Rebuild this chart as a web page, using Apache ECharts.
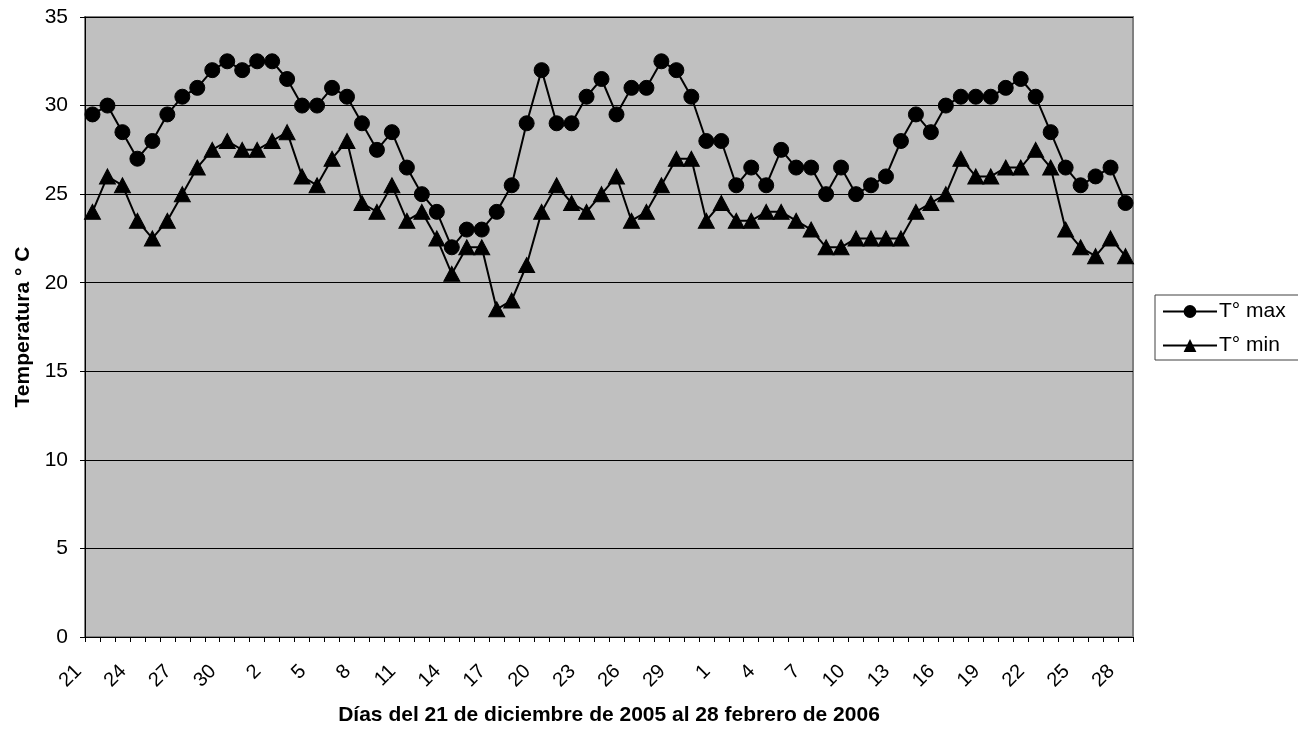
<!DOCTYPE html>
<html>
<head>
<meta charset="utf-8">
<script src="https://cdn.jsdelivr.net/npm/echarts@6/dist/echarts.min.js"></script>
<style>
  html, body { margin: 0; padding: 0; background: #fff; }
  #chart { width: 1298px; height: 731px; }
</style>
</head>
<body>
<div id="chart"></div>
<script>
// Day of month for each observation: 21 Dec 2005 .. 28 Feb 2006
const days = [
  '21','22','23','24','25','26','27','28','29','30','31',
  '1','2','3','4','5','6','7','8','9','10','11','12','13','14','15','16','17','18','19','20','21','22','23','24','25','26','27','28','29','30','31',
  '1','2','3','4','5','6','7','8','9','10','11','12','13','14','15','16','17','18','19','20','21','22','23','24','25','26','27','28'
];

// Daily maximum temperature (°C)
const tMax = [
  29.5, 30, 28.5, 27, 28, 29.5, 30.5, 31, 32, 32.5, 32,
  32.5, 32.5, 31.5, 30, 30, 31, 30.5, 29, 27.5, 28.5, 26.5, 25, 24, 22, 23, 23, 24, 25.5, 29, 32,
  29, 29, 30.5, 31.5, 29.5, 31, 31, 32.5, 32, 30.5, 28,
  28, 25.5, 26.5, 25.5, 27.5, 26.5, 26.5, 25, 26.5, 25, 25.5, 26, 28, 29.5, 28.5, 30,
  30.5, 30.5, 30.5, 31, 31.5, 30.5, 28.5, 26.5, 25.5, 26, 26.5, 24.5
];

// Daily minimum temperature (°C)
const tMin = [
  24, 26, 25.5, 23.5, 22.5, 23.5, 25, 26.5, 27.5, 28, 27.5,
  27.5, 28, 28.5, 26, 25.5, 27, 28, 24.5, 24, 25.5, 23.5, 24, 22.5, 20.5, 22, 22, 18.5, 19, 21, 24,
  25.5, 24.5, 24, 25, 26, 23.5, 24, 25.5, 27, 27, 23.5,
  24.5, 23.5, 23.5, 24, 24, 23.5, 23, 22, 22, 22.5, 22.5, 22.5, 22.5, 24, 24.5, 25,
  27, 26, 26, 26.5, 26.5, 27.5, 26.5, 23, 22, 21.5, 22.5, 21.5
];

const FONT = '"Liberation Sans", Arial, sans-serif';

const chart = echarts.init(document.getElementById('chart'), null, { renderer: 'canvas' });

chart.setOption({
  animation: false,
  backgroundColor: '#ffffff',
  textStyle: { fontFamily: FONT, color: '#000' },
  grid: {
    left: 85, right: 165, top: 17, bottom: 93,
    show: true,
    backgroundColor: '#c0c0c0',
    borderColor: '#808080',
    borderWidth: 2
  },
  legend: {
    orient: 'vertical',
    left: 1155,
    top: 295,
    padding: [6, 30, 4, 7],
    itemGap: 13,
    itemWidth: 54,
    itemHeight: 16,
    borderColor: '#404040',
    borderWidth: 1,
    backgroundColor: '#fff',
    textStyle: { fontFamily: FONT, fontSize: 21, color: '#000', padding: [0, 0, 0, -3] },
    data: ['T° max', 'T° min']
  },
  xAxis: {
    type: 'category',
    data: days,
    boundaryGap: true,
    name: 'Días del 21 de diciembre de 2005 al 28 febrero de 2006',
    nameLocation: 'middle',
    nameGap: 68,
    nameTextStyle: { fontFamily: FONT, fontSize: 21, fontWeight: 'bold', color: '#000' },
    axisLine: { show: true, lineStyle: { color: '#000', width: 1 } },
    axisTick: { show: true, interval: 0, length: 5, lineStyle: { color: '#000' } },
    axisLabel: {
      interval: 2,
      rotate: 45,
      margin: 17,
      padding: [0, 20, 0, 0],
      fontFamily: FONT,
      fontSize: 20,
      color: '#000'
    },
    splitLine: { show: false }
  },
  yAxis: {
    type: 'value',
    min: 0,
    max: 35,
    interval: 5,
    name: 'Temperatura ° C',
    nameLocation: 'middle',
    nameGap: 51,
    nameTextStyle: { fontFamily: FONT, fontSize: 21, fontWeight: 'bold', color: '#000' },
    axisLine: { show: true, lineStyle: { color: '#000', width: 1 } },
    axisTick: { show: true, length: 5, lineStyle: { color: '#000' } },
    axisLabel: { fontFamily: FONT, fontSize: 21, color: '#000', margin: 17 },
    splitLine: { show: true, lineStyle: { color: '#000', width: 1 } }
  },
  series: [
    {
      name: 'T° max',
      type: 'line',
      data: tMax,
      symbol: 'circle',
      symbolSize: 15,
      showAllSymbol: true,
      lineStyle: { color: '#000', width: 2 },
      itemStyle: { color: '#000', borderColor: '#000' },
      emphasis: { disabled: true }
    },
    {
      name: 'T° min',
      type: 'line',
      data: tMin,
      symbol: 'triangle',
      symbolSize: [16, 15],
      showAllSymbol: true,
      lineStyle: { color: '#000', width: 2 },
      itemStyle: { color: '#000', borderColor: '#000' },
      emphasis: { disabled: true }
    }
  ]
});
</script>
</body>
</html>
